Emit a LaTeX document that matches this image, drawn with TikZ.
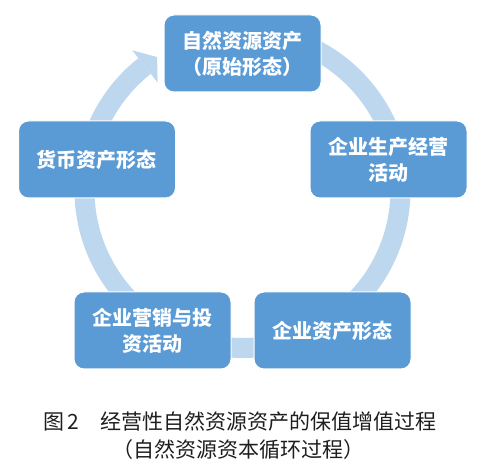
\documentclass[tikz,border=0pt]{standalone}
\usepackage{fontspec}
\setmainfont{Noto Sans CJK SC}
\definecolor{boxblue}{RGB}{91,155,213}
\definecolor{ringblue}{RGB}{189,215,238}
\definecolor{captxt}{RGB}{30,30,30}
\begin{document}
\begin{tikzpicture}[x=1pt,y=1pt,
  stagebox/.style={rectangle, rounded corners=10pt, fill=boxblue, draw=white, line width=1pt,
    minimum width=157pt, minimum height=77pt, inner sep=0pt, text=white, align=center,
    font=\fontsize{20}{26}\selectfont\bfseries},
  ringfill/.style={fill=ringblue},
  captext/.style={text=captxt, inner sep=0pt, font=\fontsize{21}{26}\selectfont}]
\useasboundingbox (0,0) rectangle (480,474);
\coordinate (c) at (242.5,284);
% circular arrow
\fill[ringfill] ([shift={(80:168)}]c) arc (80:-231.7:168) -- ([shift={(-231.7:148)}]c) arc (-231.7:80:148) -- cycle;
\fill[ringfill] ([shift={(128.3:137)}]c) -- ([shift={(122.7:158)}]c) -- ([shift={(128.3:178)}]c) -- cycle;
% stages
\node[stagebox] (n1) at (242.5,420.5) {自然资源资产\\（原始形态）};
\node[stagebox] (n2) at (388.5,314.5) {企业生产经营\\活动};
\node[stagebox] (n3) at (332.5,143.5) {企业资产形态};
\node[stagebox] (n4) at (152.5,143.5) {企业营销与投\\资活动};
\node[stagebox] (n5) at (97,314.5) {货币资产形态};
% caption
\node[captext] (cap1) at (240,52) {图\hspace{3pt}2\hspace{21pt}经营性自然资源资产的保值增值过程};
\node[captext] (cap2) at (238.5,24) {（自然资源资本循环过程）};
\end{tikzpicture}
\end{document}
